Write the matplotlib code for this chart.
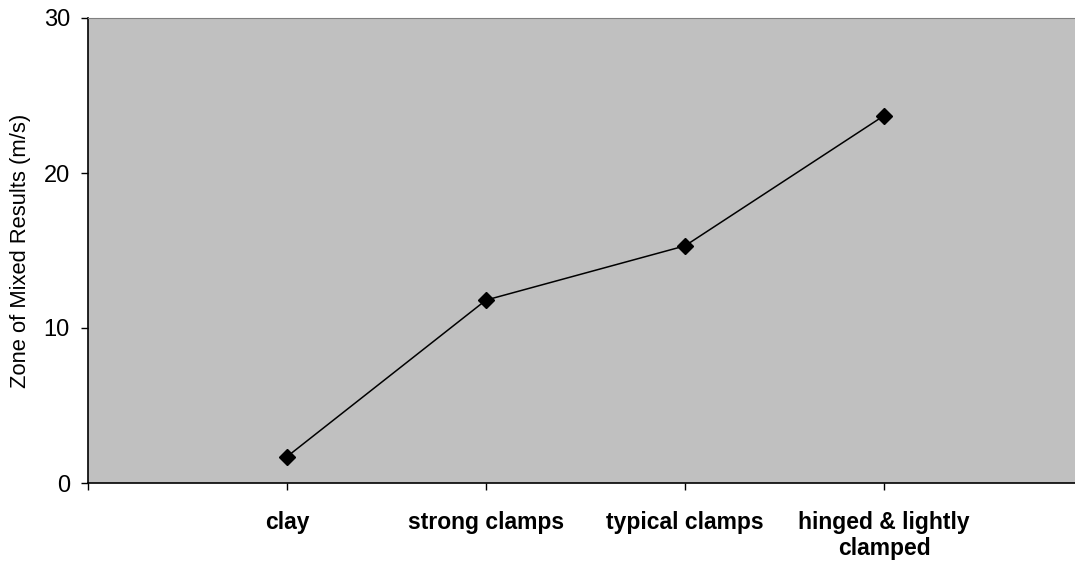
import matplotlib.pyplot as plt

# clamp condition vs. zone of mixed results
categories = ["clay", "strong clamps", "typical clamps", "hinged & lightly\nclamped"]
zoneSpeeds = [1.7, 11.8, 15.3, 23.7]
yTicks = [0, 10, 20, 30]

plt.rcParams["font.family"] = ["Liberation Sans", "DejaVu Sans"]

fig = plt.figure(figsize=(10.75, 5.63), dpi=100)
ax = fig.add_axes([88 / 1075, 80 / 563, 995 / 1075, 465 / 563])
ax.set_facecolor("#c0c0c0")

xPositions = list(range(1, len(categories) + 1))
ax.plot(xPositions, zoneSpeeds, color="black", linewidth=1.1,
        marker="D", markersize=8, markerfacecolor="black", markeredgecolor="black")

ax.set_xlim(0, 5)
ax.set_ylim(0, 30)
ax.set_yticks(yTicks)
ax.set_yticklabels([str(t) for t in yTicks], fontsize=17)
ax.set_xticks([0] + xPositions)
ax.set_xticklabels([""] + categories, fontsize=16.5, fontweight="bold", linespacing=1.2)
ax.tick_params(axis="x", direction="out", length=5, width=1, pad=15)
ax.tick_params(axis="y", direction="out", length=5, width=1, pad=8)

ax.spines["right"].set_visible(False)
ax.spines["top"].set_color("#808080")
ax.spines["left"].set_linewidth(1.2)
ax.spines["bottom"].set_linewidth(1.2)

ax.set_ylabel("Zone of Mixed Results (m/s)", fontsize=15.8, labelpad=9)

fig.savefig("out.png", dpi=100)
